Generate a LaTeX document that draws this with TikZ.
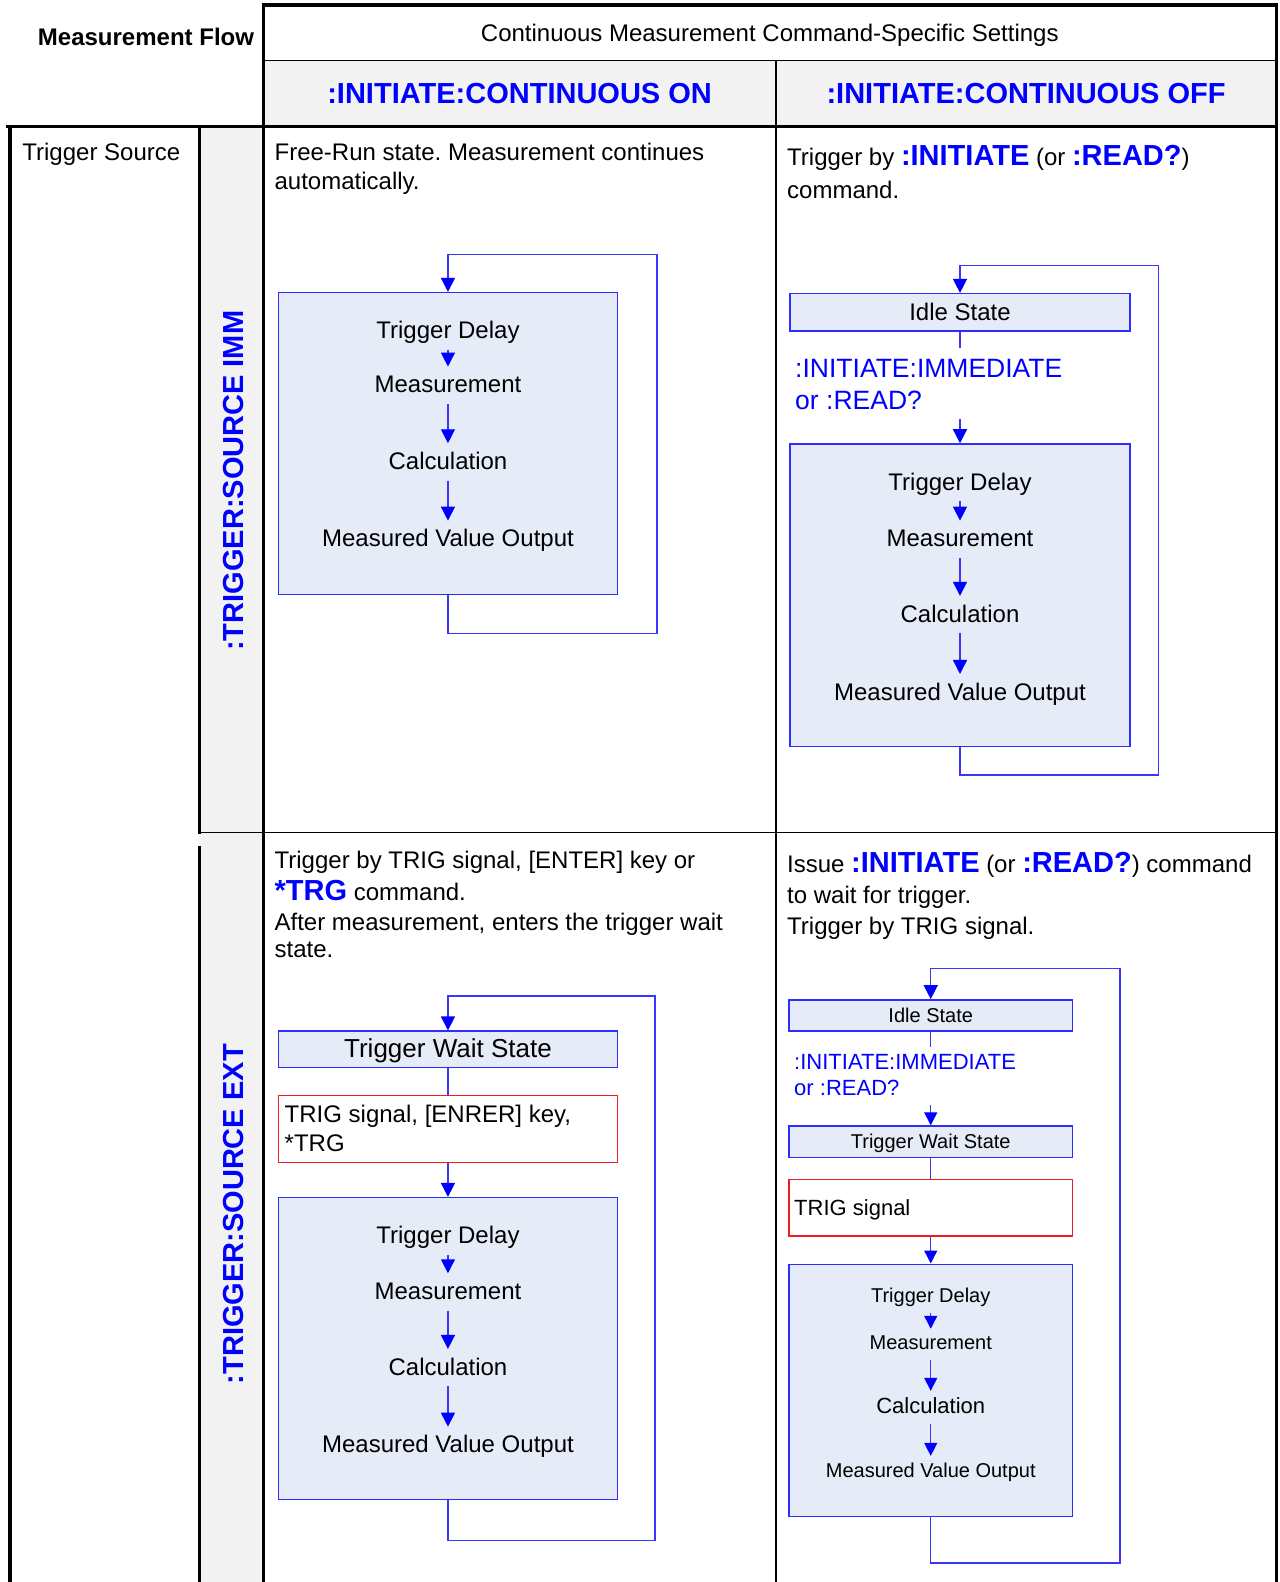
\documentclass[tikz,border=0pt]{standalone}
\usepackage{fontspec}
\setmainfont{Liberation Sans}
\usetikzlibrary{arrows.meta,fit}
\frenchspacing
\definecolor{cmdblue}{RGB}{0,0,255}
\definecolor{flowblue}{RGB}{55,55,255}
\definecolor{boxfill}{RGB}{230,236,247}
\definecolor{boxedge}{RGB}{45,45,255}
\definecolor{hdrgray}{RGB}{242,242,242}
\definecolor{trigred}{RGB}{238,30,30}
\newcommand{\cmdword}[1]{{\fontsize{29}{34}\selectfont\bfseries\color{cmdblue}#1}}
\tikzset{
  rulethick/.style={draw=black, line width=3.2pt, line cap=rect},
  rulethin/.style={draw=black, line width=1.3pt},
  body/.style={font=\fontsize{24}{28}\selectfont, inner sep=0pt},
  small/.style={font=\fontsize{20}{24}\selectfont, inner sep=0pt},
  mid/.style={font=\fontsize{22}{26}\selectfont, inner sep=0pt},
  hdr/.style={font=\fontsize{29}{34}\selectfont\bfseries, text=cmdblue, inner sep=0pt},
  lbl/.style={body, inner sep=0pt, text height=18pt, text depth=6pt, anchor=base},
  lblsm/.style={small, inner sep=0pt, text height=15pt, text depth=5pt, anchor=base},
  lblmid/.style={mid, inner sep=0pt, text height=16.5pt, text depth=5.5pt, anchor=base},
  stepbox/.style={draw=boxedge, fill=boxfill, line width=1.4pt, inner sep=0pt},
  trigbox/.style={draw=trigred, fill=white, line width=1.2pt, inner sep=0pt},
  link/.style={draw=flowblue, line width=1.3pt},
  flow/.style={draw=flowblue, line width=1.4pt,
    -{Triangle[length=14pt,width=14pt,color=cmdblue]}},
  inner/.style={flow, shorten <=5pt, shorten >=8pt},
  innersm/.style={flow, shorten <=5pt, shorten >=6pt,
    -{Triangle[length=13pt,width=13pt,color=cmdblue]}},
  entry/.style={flow, -{Triangle[length=13pt,width=13pt,color=cmdblue]}},
}
\begin{document}
\begin{tikzpicture}[x=1.0087pt, y=-1.0087pt]
\useasboundingbox (0,0) rectangle (1268,1568);
\fill[white] (0,0) rectangle (1268,1568);

% ---- table: shaded cells ----
\fill[hdrgray] (261,60) rectangle (1265,125);
\fill[hdrgray] (198,125) rectangle (261,1568);

% ---- table: rules ----
\draw[rulethick] (261,1568) -- (261,5) -- (1265,5) -- (1265,1568);
\draw[rulethin] (261,60) -- (1265,60);
\draw[rulethin] (769,60) -- (769,1568);
\draw[rulethick] (8,125) -- (1265,125);
\draw[rulethick] (10,125) -- (10,1568);
\draw[rulethick] (198,125) -- (198,825);
\draw[rulethick] (198,840) -- (198,1568);
\draw[rulethin] (198,825) -- (1265,825);

% ---- table: headings ----
\node[body, font=\fontsize{24}{28}\selectfont\bfseries, anchor=base east] (hflow) at (252,45.3) {Measurement Flow};
\node[body, anchor=base] (hcont) at (763,41) {Continuous Measurement Command-Specific Settings};
\node[hdr, anchor=base] (hon) at (515,102.4) {:INITIATE:CONTINUOUS ON};
\node[hdr, anchor=base] (hoff) at (1017,102.4) {:INITIATE:CONTINUOUS OFF};
\node[body, anchor=base west] (hsrc) at (22,159.5) {Trigger Source};
\node[hdr, rotate=90] (simm) at (231,476.5) {:TRIGGER:SOURCE IMM};
\node[hdr, rotate=90] (sext) at (231,1203.5) {:TRIGGER:SOURCE EXT};

% ---- cell texts ----
\node[body, anchor=base west] (c1a) at (272,159.5) {Free-Run state. Measurement continues};
\node[body, anchor=base west] (c1b) at (272,187.5) {automatically.};
\node[body, anchor=base west] (c2a) at (780,164.5) {Trigger by \cmdword{:INITIATE} (or \cmdword{:READ?})};
\node[body, anchor=base west] (c2b) at (780,196.5) {command.};
\node[body, anchor=base west] (c3a) at (272,860.5) {Trigger by TRIG signal, [ENTER] key or};
\node[body, anchor=base west] (c3b) at (272,892.5) {\cmdword{*TRG} command.};
\node[body, anchor=base west] (c3c) at (272,922) {After measurement, enters the trigger wait};
\node[body, anchor=base west] (c3d) at (272,949.5) {state.};
\node[body, anchor=base west] (c4a) at (780,864.5) {Issue \cmdword{:INITIATE} (or \cmdword{:READ?}) command};
\node[body, anchor=base west] (c4b) at (780,895.5) {to wait for trigger.};
\node[body, anchor=base west] (c4c) at (780,926.5) {Trigger by TRIG signal.};

% ---- flow: IMM / continuous ON ----
\node[stepbox, fit={(276,290) (612,589)}] (b1) {};
\node[lbl] (b1td) at (444,335.4) {Trigger Delay};
\node[lbl] (b1ms) at (444,389.3) {Measurement};
\node[lbl] (b1ca) at (444,465.3) {Calculation};
\node[lbl] (b1mv) at (444,542) {Measured Value Output};
\draw[inner] (b1td) -- (b1ms);
\draw[inner] (b1ms) -- (b1ca);
\draw[inner] (b1ca) -- (b1mv);
\coordinate (d1rb) at (651,628);
\coordinate (d1rt) at (651,252);
\draw[flow] (b1.south) |- (d1rb) -- (d1rt) -| (b1.north);

% ---- flow: IMM / continuous OFF ----
\node[stepbox, fit={(783,291) (1120,328)}] (i2) {};
\node[body, anchor=base] (i2t) at (951.5,317.5) {Idle State};
\node[body, font=\fontsize{26.5}{32}\selectfont, text=cmdblue, anchor=base west] (i2c1) at (788,374) {:INITIATE:IMMEDIATE};
\node[body, font=\fontsize{26.5}{32}\selectfont, text=cmdblue, anchor=base west] (i2c2) at (788,405.5) {or :READ?};
\node[stepbox, fit={(783,440) (1120,740)}] (b2) {};
\coordinate (d2la) at (951.5,345);
\coordinate (d2lb) at (951.5,415);
\draw[link] (i2.south) -- (d2la);
\draw[flow] (d2lb) -- (b2.north);
\node[lbl] (b2td) at (951.5,485.8) {Trigger Delay};
\node[lbl] (b2ms) at (951.5,542) {Measurement};
\node[lbl] (b2ca) at (951.5,616.5) {Calculation};
\node[lbl] (b2mv) at (951.5,694) {Measured Value Output};
\draw[inner] (b2td) -- (b2ms);
\draw[inner] (b2ms) -- (b2ca);
\draw[inner] (b2ca) -- (b2mv);
\coordinate (d2rb) at (1148,768);
\coordinate (d2rt) at (1148,263);
\draw[flow] (b2.south) |- (d2rb) -- (d2rt) -| (i2.north);

% ---- flow: EXT / continuous ON ----
\node[stepbox, fit={(276,1022) (612,1058)}] (w3) {};
\node[body, font=\fontsize{26}{31}\selectfont, anchor=base] (w3t) at (444,1048.6) {Trigger Wait State};
\node[trigbox, fit={(276,1086) (612,1152)}] (r3) {};
\node[body, anchor=base west] (r3a) at (282,1112.7) {TRIG signal, [ENRER] key,};
\node[body, anchor=base west] (r3b) at (282,1141) {*TRG};
\node[stepbox, fit={(276,1187) (612,1486)}] (b3) {};
\draw[link] (w3.south) -- (r3.north);
\draw[flow] (r3.south) -- (b3.north);
\node[lbl] (b3td) at (444,1232.7) {Trigger Delay};
\node[lbl] (b3ms) at (444,1288) {Measurement};
\node[lbl] (b3ca) at (444,1363) {Calculation};
\node[lbl] (b3mv) at (444,1440) {Measured Value Output};
\draw[inner] (b3td) -- (b3ms);
\draw[inner] (b3ms) -- (b3ca);
\draw[inner] (b3ca) -- (b3mv);
\coordinate (d3rb) at (649,1527);
\coordinate (d3rt) at (649,987);
\draw[flow] (b3.south) |- (d3rb) -- (d3rt) -| (w3.north);

% ---- flow: EXT / continuous OFF ----
\node[stepbox, fit={(782,991) (1063,1022)}] (i4) {};
\node[small, anchor=base] (i4t) at (922.5,1013) {Idle State};
\node[mid, text=cmdblue, anchor=base west] (i4c1) at (787,1060) {:INITIATE:IMMEDIATE};
\node[mid, text=cmdblue, anchor=base west] (i4c2) at (787,1086) {or :READ?};
\node[stepbox, fit={(782,1116) (1063,1147)}] (w4) {};
\node[small, anchor=base] (w4t) at (922.5,1138) {Trigger Wait State};
\node[trigbox, fit={(782,1169) (1063,1225)}] (r4) {};
\node[mid, anchor=base west] (r4t) at (787,1205) {TRIG signal};
\node[stepbox, fit={(782,1253) (1063,1503)}] (b4) {};
\coordinate (d4la) at (922.5,1038);
\coordinate (d4lb) at (922.5,1095);
\draw[link] (i4.south) -- (d4la);
\draw[entry] (d4lb) -- (w4.north);
\draw[link] (w4.south) -- (r4.north);
\draw[entry] (r4.south) -- (b4.north);
\node[lblsm] (b4td) at (922.5,1291) {Trigger Delay};
\node[lblsm] (b4ms) at (922.5,1338) {Measurement};
\node[lblmid] (b4ca) at (922.5,1401) {Calculation};
\node[lblsm] (b4mv) at (922.5,1464) {Measured Value Output};
\draw[innersm] (b4td) -- (b4ms);
\draw[innersm] (b4ms) -- (b4ca);
\draw[innersm] (b4ca) -- (b4mv);
\coordinate (d4rb) at (1110,1549);
\coordinate (d4rt) at (1110,960);
\draw[flow] (b4.south) |- (d4rb) -- (d4rt) -| (i4.north);
\end{tikzpicture}
\end{document}
